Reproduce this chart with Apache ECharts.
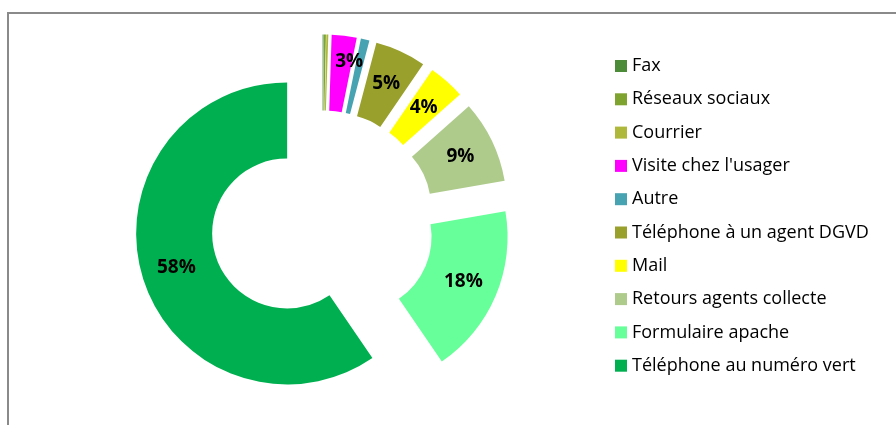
<!DOCTYPE html>
<html>
<head>
<meta charset="utf-8">
<script src="https://cdn.jsdelivr.net/npm/echarts@6/dist/echarts.min.js"></script>
<style>
  html, body { margin: 0; padding: 0; background: #fff; }
  #chart { width: 896px; height: 425px; }
</style>
</head>
<body>
<div id="chart"></div>
<script>
// Canaux de signalement (en % des réponses)
const categories = [
  "Fax",
  "Réseaux sociaux",
  "Courrier",
  "Visite chez l'usager",
  "Autre",
  "Téléphone à un agent DGVD",
  "Mail",
  "Retours agents collecte",
  "Formulaire apache",
  "Téléphone au numéro vert"
];
const values = [0.1, 0.2, 0.2, 2.6, 0.9, 5.3, 3.8, 8.6, 17.7, 58.0];
const palette = [
  "#4C8C38", "#7EA32E", "#AEB83A", "#FF00FF", "#47A3B2",
  "#99A02C", "#FFFF00", "#AECB8C", "#66FF99", "#00B050"
];

const FONT = "'Open Sans', 'Noto Sans', sans-serif";

const chart = echarts.init(document.getElementById('chart'), null, { renderer: 'canvas' });

const pieData = categories.map((name, i) => ({
  name: name,
  value: values[i],
  selected: true,
  itemStyle: { color: palette[i] }
}));

chart.setOption({
  animation: false,
  backgroundColor: '#ffffff',
  graphic: [{
    type: 'rect',
    shape: { x: 8, y: 13, width: 900, height: 430 },
    style: { fill: 'none', stroke: '#8a8a8a', lineWidth: 2 },
    silent: true
  }],
  legend: {
    orient: 'vertical',
    left: 610,
    top: 51,
    itemWidth: 12,
    itemHeight: 12,
    itemGap: 13.3,
    icon: 'rect',
    selectedMode: false,
    data: categories,
    textStyle: {
      fontFamily: FONT,
      fontSize: 18,
      lineHeight: 20,
      color: '#000'
    }
  },
  series: [{
    type: 'pie',
    center: [322.5, 222.5],
    radius: [75, 151],
    startAngle: 90,
    clockwise: true,
    selectedMode: 'multiple',
    selectedOffset: 37,
    avoidLabelOverlap: false,
    silent: true,
    label: {
      show: true,
      position: 'inside',
      fontFamily: FONT,
      fontWeight: 'bold',
      fontSize: 19,
      color: '#000',
      formatter: p => (p.value < 1 ? '' : Math.round(p.value) + '%')
    },
    // the narrow magenta slice carries its label a little further out
    labelLayout: p => (categories[p.dataIndex] === "Visite chez l'usager" ? { dx: 9, dy: -9 } : {}),
    labelLine: { show: false },
    select: { itemStyle: {} },
    emphasis: { disabled: true },
    data: pieData
  }]
});
</script>
</body>
</html>
